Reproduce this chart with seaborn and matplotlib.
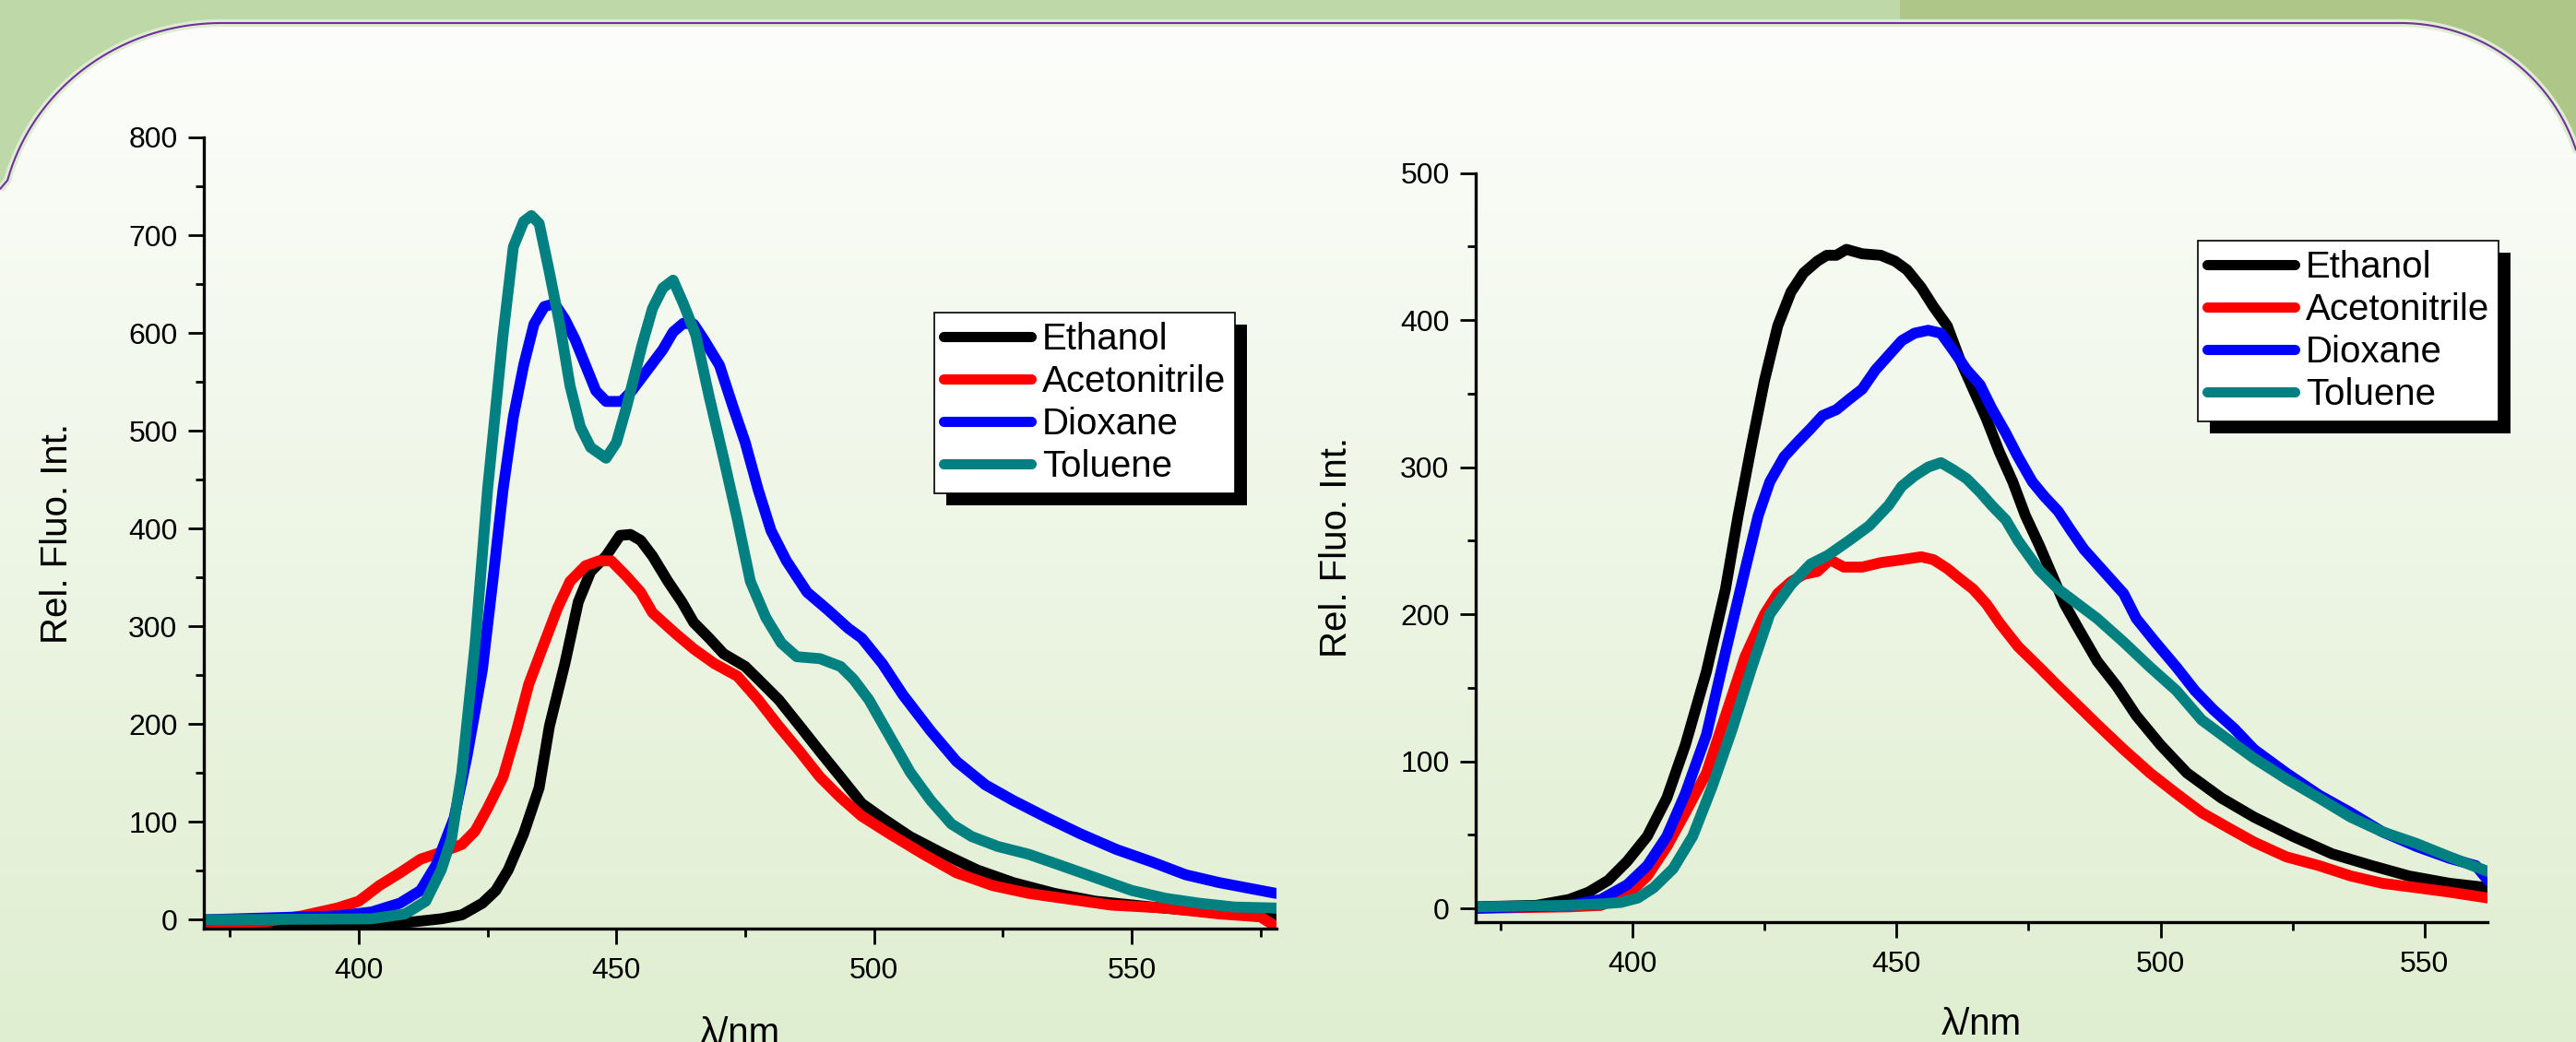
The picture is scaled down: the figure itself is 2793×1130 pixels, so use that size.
import numpy as np
import pandas as pd
import matplotlib
matplotlib.use('Agg')
import matplotlib.pyplot as plt
import seaborn as sns
from matplotlib.path import Path
from matplotlib.patches import PathPatch, Rectangle
from matplotlib.lines import Line2D
from matplotlib.ticker import MultipleLocator

# ---------------- data ----------------
solvents = ['Ethanol', 'Acetonitrile', 'Dioxane', 'Toluene']
colors = ['#000000', '#ff0000', '#0000ff', '#008080']

# left panel
A_eth_wl = [370, 396, 409, 416, 420, 424, 426.6, 429, 432, 435, 437, 440, 442.6, 445, 448, 450.7, 452.7, 454.7,
            457, 460, 462.7, 465, 468, 470.8, 475, 477.5, 481.5, 485.6, 489.5, 493.5, 497.6, 501.6, 507, 513.6,
            520, 527, 535, 543, 554, 563, 572.6, 578]
A_eth = [-4, -4, -3, 1, 5, 17, 30, 51, 88, 135, 198, 262, 325, 356, 372, 393, 394, 388,
         372, 346, 325, 304, 288, 272, 259, 246, 225, 198, 172, 146, 119, 104, 85, 67,
         51, 38, 27, 19, 13, 9, 5, 1]

A_ace_wl = [370, 382, 389, 395.8, 400, 404, 408, 412, 416, 420, 422.6, 425, 428, 430.6, 433, 436, 438.6, 441,
            444, 446.6, 449, 452, 454.7, 457, 461.4, 465, 469, 473.5, 477.5, 481.5, 485.6, 489.5, 493.5, 497.6,
            503, 509.6, 516, 523, 530, 538, 546, 556.5, 567, 575, 578]
A_ace = [-4, -2, 4, 12, 19, 35, 48, 62, 69, 77, 91, 114, 146, 193, 241, 283, 319, 346,
         362, 367, 367, 351, 335, 314, 293, 277, 262, 249, 225, 198, 172, 146, 125, 106,
         88, 67, 48, 35, 27, 21, 15, 12, 6, 3, -7]

A_dio_wl = [370, 396, 402.5, 408, 412, 415, 418.5, 421, 424, 426, 428, 430, 432, 434, 436, 438, 440, 442, 444,
            446, 448, 451, 453, 456, 459, 461, 463, 465, 467, 470, 472.6, 475, 477.5, 480, 483, 487, 491, 495,
            497.6, 501.6, 505.6, 511, 516, 521.6, 527, 533.7, 540, 547, 554, 560.5, 567, 575, 578]
A_dio = [0, 4, 8, 17, 30, 56, 104, 167, 256, 346, 440, 514, 567, 609, 627, 630, 614, 593, 567,
         541, 530, 530, 541, 562, 583, 601, 610, 609, 593, 567, 525, 488, 440, 398, 367, 335, 317, 298,
         288, 262, 230, 193, 162, 138, 122, 104, 88, 72, 59, 46, 38, 30, 27]

A_tol_wl = [370, 402.5, 409, 413, 416, 418, 420, 422.6, 425, 428, 430, 432, 433.5, 435, 437, 439, 441, 443,
            445, 448, 450, 452, 455, 457, 459, 461, 463, 465.4, 468, 470.8, 473.5, 476, 479, 482, 485, 489.5,
            493.5, 496, 499, 503, 507, 511, 515, 519, 524, 530, 536, 543, 550, 556.5, 563, 570, 578]
A_tol = [0, 1, 6, 19, 51, 83, 151, 283, 440, 598, 688, 714, 720, 712, 662, 609, 546, 504,
         483, 472, 488, 525, 588, 625, 646, 654, 630, 598, 535, 472, 409, 346, 309, 283, 269, 267,
         259, 246, 225, 188, 151, 122, 98, 85, 75, 67, 56, 43, 30, 22, 17, 13, 12]

# right panel
B_eth_wl = [370, 381.8, 388, 391.7, 395.4, 399, 402.8, 406.5, 410, 414, 417.6, 420, 422.6, 425, 427.5, 430,
            432.4, 435, 436.8, 438.6, 440.5, 443.5, 447, 449.7, 452, 454.7, 457, 459.6, 462, 464.5, 467, 469.5,
            472, 474.4, 477, 479.4, 481.8, 484.3, 488, 491.7, 495.4, 500, 505, 511.5, 517.7, 525, 532.5, 540,
            547, 554.7, 562]
B_eth = [1, 2, 6, 11, 19, 32, 49, 75, 111, 161, 217, 267, 316, 359, 396, 419,
         432, 440, 444, 444, 448, 445, 444, 440, 434, 422, 409, 396, 373, 353, 333, 310,
         290, 267, 247, 227, 207, 191, 168, 151, 131, 111, 92, 75, 62, 49, 37, 29,
         22, 17, 14]

B_ace_wl = [370, 388, 394, 399, 402.8, 406.5, 410, 414, 417.6, 421.3, 425, 427.5, 430, 432.4, 435, 437.4, 440,
            443.5, 447, 451, 454.7, 457, 459.6, 462, 464.5, 467, 469.5, 473, 477, 480.6, 484.3, 488, 493, 498,
            503, 507.8, 512.7, 517.7, 523.8, 530, 536, 542, 548.5, 554.7, 562]
B_ace = [0, 1, 2, 9, 22, 42, 65, 92, 131, 171, 200, 214, 222, 227, 229, 237, 232,
         232, 235, 237, 239, 237, 231, 224, 217, 207, 194, 178, 164, 151, 138, 125, 108, 92,
         78, 65, 55, 45, 35, 29, 22, 17, 14, 11, 7]

B_dio_wl = [370, 388, 394, 399, 402.8, 406.5, 410, 414, 417.6, 421.3, 423.8, 426, 428.7, 431, 433.7, 436, 438.6,
            441, 443.5, 446, 448.5, 451, 453.4, 456, 458.4, 460.8, 463.3, 465.8, 468, 470.7, 473, 475.7, 478,
            480.6, 483, 485.5, 488, 490.5, 493, 495.4, 499, 503, 506.5, 510, 514, 517.7, 523.8, 530, 536, 542,
            548.5, 554.7, 559.7, 562]
B_dio = [0, 2, 6, 16, 29, 49, 78, 118, 174, 230, 267, 290, 307, 316, 326, 335, 339,
         346, 353, 366, 376, 386, 391, 393, 391, 379, 366, 356, 340, 323, 307, 290, 280,
         270, 257, 244, 234, 224, 214, 197, 181, 164, 148, 135, 122, 108, 92, 77, 65, 52,
         42, 34, 29, 19]

B_tol_wl = [370, 388, 394, 397.8, 401, 404, 407.7, 411.4, 415, 418.8, 422.6, 426, 430, 433.7, 437, 441, 444.8,
            448.5, 451, 453.4, 456, 458.4, 460.8, 463.3, 465.8, 468, 470.7, 473, 477, 480.6, 484.3, 488, 493,
            498, 503, 507.8, 512.7, 517.7, 523.8, 530, 536, 542, 548.5, 554.7, 562]
B_tol = [1, 2, 3, 4, 7, 14, 27, 49, 82, 121, 164, 200, 220, 234, 240, 250, 260,
         274, 287, 294, 300, 303, 298, 292, 283, 274, 264, 250, 230, 217, 207, 197, 181,
         164, 148, 128, 115, 102, 88, 75, 62, 52, 44, 35, 25]

x_label = 'λ/nm'
y_label = 'Rel. Fluo. Int.'

# ---------------- style ----------------
sns.set_style('ticks', rc={'axes.edgecolor': 'black', 'text.color': 'black',
                           'axes.labelcolor': 'black', 'xtick.color': 'black',
                           'ytick.color': 'black'})
plt.rcParams['font.family'] = ['Liberation Sans', 'DejaVu Sans']

W, H = 2793, 1130
fig = plt.figure(figsize=(W / 100, H / 100), dpi=100)

# ---------------- slide background ----------------
bg = fig.add_axes([0, 0, 1, 1], zorder=-10)
bg.set_xlim(0, W)
bg.set_ylim(H, 0)
bg.axis('off')
bg.add_patch(Rectangle((0, 0), W, H, facecolor='#bfd8a8', edgecolor='none'))
bg.add_patch(Rectangle((2060, 0), W - 2060, 400, facecolor='#aec789', edgecolor='none'))

t1 = np.radians(np.linspace(165, 90, 60))
lx = 240 + 240 * np.cos(t1)
ly = 255 - 230 * np.sin(t1)
t2 = np.radians(np.linspace(90, 18.2, 60))
rx = 2603 + 200 * np.cos(t2)
ry = 225 - 200 * np.sin(t2)
edge_x = np.concatenate([[0], lx, rx, [W]])
edge_y = np.concatenate([[205], ly, ry, [ry[-1]]])
verts = list(zip(edge_x, edge_y)) + [(W, H), (0, H), (0, 205)]
panel = PathPatch(Path(verts, closed=True), facecolor='none', edgecolor='none')
bg.add_patch(panel)
top_c = np.array([0.992, 0.996, 0.988])
bot_c = np.array([0.875, 0.933, 0.816])
f = np.linspace(0, 1, 256)[:, None]
grad = (top_c[None, :] * (1 - f) + bot_c[None, :] * f)[:, None, :]
im = bg.imshow(grad, extent=(0, W, H, 20), aspect='auto', zorder=1)
im.set_clip_path(panel)
bg.plot(edge_x, edge_y, color='#deecd0', lw=6, zorder=2, solid_capstyle='butt')
bg.plot(edge_x, edge_y, color='#7030a0', lw=1.5, zorder=3)
bg.set_xlim(0, W)
bg.set_ylim(H, 0)


def draw_panel(rect, wls, vals, xlim, ylim, legend_xy, xlab_y, ylab_x):
    ax = fig.add_axes(rect)
    ax.set_facecolor('none')
    frames = [pd.DataFrame({'wl': wl, 'val': v, 'solvent': s})
              for s, wl, v in zip(solvents, wls, vals)]
    df = pd.concat(frames, ignore_index=True)
    sns.lineplot(data=df, x='wl', y='val', hue='solvent', hue_order=solvents,
                 palette=colors, estimator=None, sort=False, linewidth=8.5,
                 ax=ax, legend=False)
    for ln in ax.lines:
        ln.set_linewidth(8.5)
        ln.set_solid_joinstyle('round')
    ax.set_xlim(*xlim)
    ax.set_ylim(*ylim)
    ax.xaxis.set_major_locator(MultipleLocator(50))
    ax.xaxis.set_minor_locator(MultipleLocator(25))
    ax.yaxis.set_major_locator(MultipleLocator(100))
    ax.yaxis.set_minor_locator(MultipleLocator(50))
    sns.despine(ax=ax)
    for sp in ['left', 'bottom']:
        ax.spines[sp].set_linewidth(2.4)
    ax.tick_params(which='major', length=12.5, width=2, labelsize=23, direction='out')
    ax.tick_params(which='minor', length=6.5, width=2, direction='out')
    ax.tick_params(axis='y', pad=8)
    ax.tick_params(axis='x', pad=10)
    ax.set_xlabel(x_label, fontsize=29)
    ax.set_ylabel(y_label, fontsize=29)
    ax.xaxis.set_label_coords(0.5, xlab_y)
    ax.yaxis.set_label_coords(ylab_x, 0.5)

    handles = [Line2D([], [], color=c, lw=8) for c in colors]
    leg = ax.legend(handles, solvents, loc='upper left', bbox_to_anchor=legend_xy,
                    bbox_transform=fig.transFigure, fontsize=29, frameon=True,
                    fancybox=False, edgecolor='black', framealpha=1, facecolor='white',
                    borderpad=0.25, labelspacing=0.2, handlelength=2.35,
                    handletextpad=0.3, borderaxespad=0)
    leg.get_frame().set_linewidth(1.2)
    return ax, leg


axA, legA = draw_panel([221 / W, 1 - 1007 / H, (1384 - 221) / W, (1007 - 149) / H],
                       [A_eth_wl, A_ace_wl, A_dio_wl, A_tol_wl], [A_eth, A_ace, A_dio, A_tol],
                       (369.93, 578.1), (-9, 800), (1013 / W, 1 - 339 / H), -0.111, -0.12)
axB, legB = draw_panel([1600 / W, 1 - 1000 / H, (2697 - 1600) / W, (1000 - 187.5) / H],
                       [B_eth_wl, B_ace_wl, B_dio_wl, B_tol_wl], [B_eth, B_ace, B_dio, B_tol],
                       (370.3, 561.9), (-9.4, 500), (2383 / W, 1 - 261 / H), -0.113, -0.12)

fig.canvas.draw()
inv = fig.transFigure.inverted()
for ax, leg in [(axA, legA), (axB, legB)]:
    bb = leg.get_window_extent()
    (x0, y0) = inv.transform((bb.x0 + 13, bb.y0 - 13))
    (x1, y1) = inv.transform((bb.x1 + 13, bb.y1 - 13))
    ax.add_patch(Rectangle((x0, y0), x1 - x0, y1 - y0, transform=fig.transFigure,
                           facecolor='black', edgecolor='none', zorder=4.5, clip_on=False))

fig.savefig('out.png', dpi=100)
